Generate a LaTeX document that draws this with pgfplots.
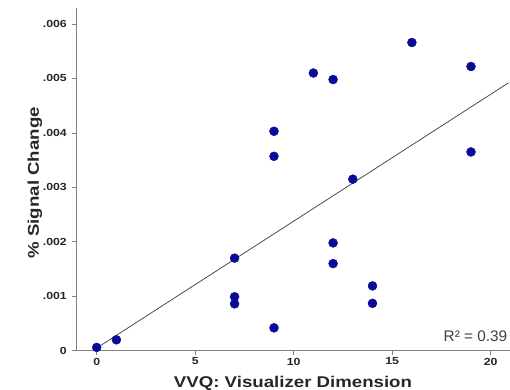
\documentclass[border=0pt]{standalone}
\usepackage{pgfplots}
\pgfplotsset{compat=1.18}
\usepackage{fontspec}
\setmainfont{Liberation Sans}
\newfontfamily\widefont[FakeStretch=1.2]{Liberation Sans}
\definecolor{dotblue}{HTML}{0A0A96}
\definecolor{axgray}{HTML}{808080}
\begin{document}
\begin{tikzpicture}
\begin{axis}[
  at={(0,0)}, anchor=south west,
  scale only axis,
  width=434bp, height=342.7bp,
  xmin=-1.05, xmax=20.98,
  ymin=0, ymax=0.006294,
  clip=false,
  axis x line*=bottom, axis y line*=left,
  axis line style={-, draw=axgray, line width=0.9pt},
  xtick={0,5,10,15,20},
  ytick={0,0.001,0.002,0.003,0.004,0.005,0.006},
  yticklabels={0,.001,.002,.003,.004,.005,.006},
  scaled y ticks=false,
  tick align=outside,
  major tick length=4bp,
  tick style={draw=axgray, line width=0.8pt},
  ticklabel style={font=\widefont\bfseries\fontsize{10.3}{11}\selectfont, text=black!85},
  /pgf/number format/assume math mode=true,
  yticklabel style={inner sep=0pt, xshift=-5bp},
  xticklabel style={inner sep=0pt, yshift=-3bp},
  xlabel={VVQ: Visualizer Dimension},
  ylabel={\% Signal Change},
  label style={font=\widefont\bfseries\fontsize{15.6}{17}\selectfont, text=black!85},
  xlabel style={at={(axis description cs:0.5,0)}, anchor=north, inner sep=0pt, yshift=-25bp},
  ylabel style={at={(axis description cs:0,0.49)}, anchor=center, inner sep=0pt, yshift=41bp},
]
\addplot[draw=black!70, line width=0.8pt] coordinates {(0.2,0.0000956) (20.9,0.004919)};
\addplot[only marks, mark=*, mark size=4.5bp, mark options={fill=dotblue, draw=dotblue}] coordinates {
(0,0.00006) (1,0.0002)
(7,0.0017) (7,0.00099) (7,0.00086)
(9,0.00042) (9,0.00403) (9,0.00357)
(11,0.0051)
(12,0.00498) (12,0.00198) (12,0.0016)
(13,0.00315)
(14,0.00119) (14,0.00087)
(16,0.00566)
(19,0.00522) (19,0.00365)
};
\node[anchor=east, inner sep=0pt, font=\fontsize{15.4}{16}\selectfont, text=black!75] at (axis cs:20.85,0.000257) {R² = 0.39};
\end{axis}
\pgfresetboundingbox
\path[use as bounding box] (-76bp,-39.3bp) rectangle (434bp,350.7bp);
\end{tikzpicture}
\end{document}
